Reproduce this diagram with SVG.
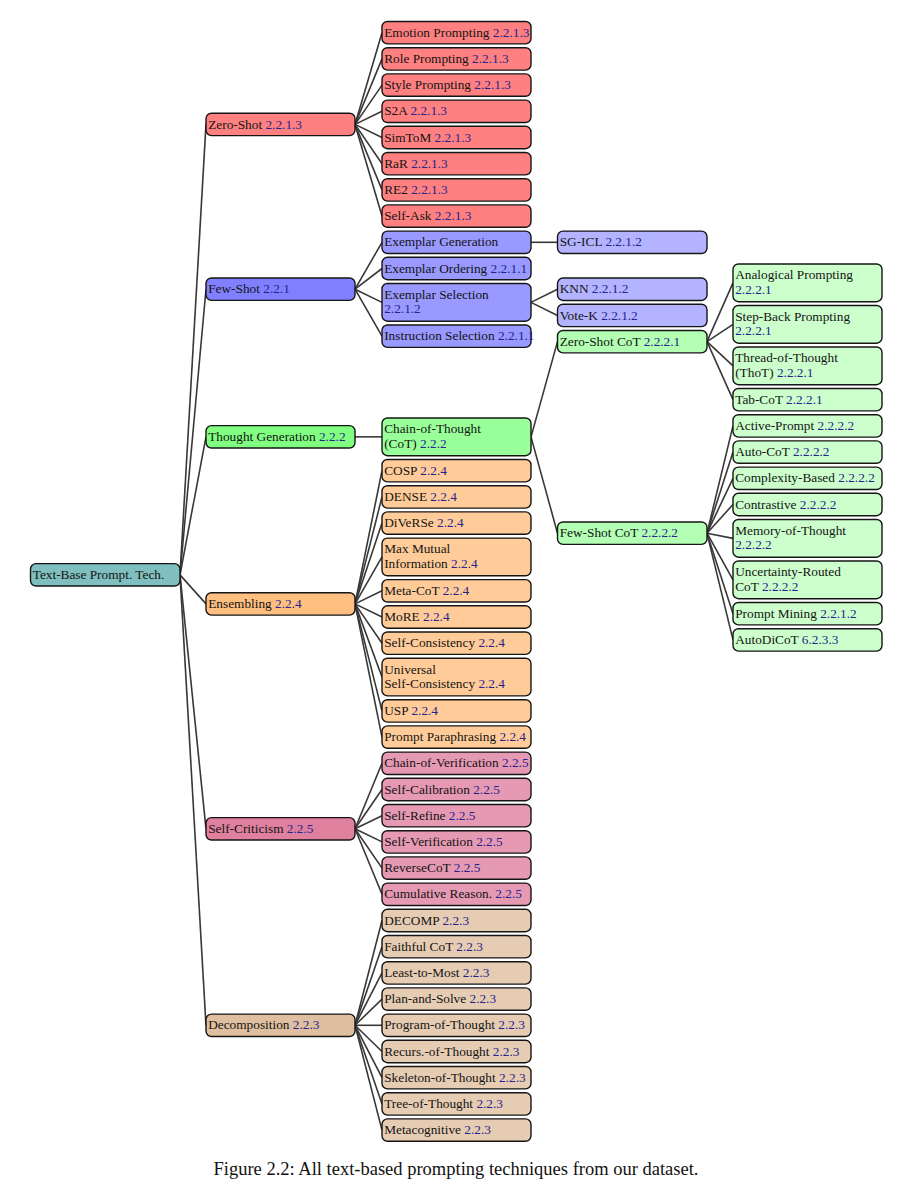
<svg xmlns="http://www.w3.org/2000/svg" width="909" height="1200" viewBox="0 0 909 1200">
<style>
rect{stroke:#151515;stroke-width:1.4}
text{font-family:"Liberation Serif","Times New Roman",serif;font-size:13.3px;fill:#141414}
.s{fill:#24248c}
.cap{font-size:18.5px;fill:#111}
#edges line{stroke:#383838;stroke-width:1.6}
.teal{fill:#80BFBF}
.r1{fill:#FF8080}
.b1{fill:#8080FF}.b2{fill:#9999FF}.b3{fill:#B3B3FF}
.g1{fill:#80FF80}.g2{fill:#99FF99}.g3{fill:#B3FFB3}.g4{fill:#CCFFCC}
.o1{fill:#FFBF80}.o2{fill:#FFCC99}
.p1{fill:#DF809F}.p2{fill:#E699B3}
.w1{fill:#DFBF9F}.w2{fill:#E6CCB3}
</style>
<rect x="0" y="0" width="909" height="1200" style="fill:#fff;stroke:none"/>
<g id="edges">
<line x1="180" y1="574.85" x2="206" y2="124.4"/>
<line x1="180" y1="574.85" x2="206" y2="289.2"/>
<line x1="180" y1="574.85" x2="206" y2="436.85"/>
<line x1="180" y1="574.85" x2="206" y2="603.9"/>
<line x1="180" y1="574.85" x2="206" y2="828.8"/>
<line x1="180" y1="574.85" x2="206" y2="1025.3"/>
<line x1="355" y1="124.4" x2="382" y2="32.7"/>
<line x1="355" y1="124.4" x2="382" y2="58.9"/>
<line x1="355" y1="124.4" x2="382" y2="85.1"/>
<line x1="355" y1="124.4" x2="382" y2="111.3"/>
<line x1="355" y1="124.4" x2="382" y2="137.5"/>
<line x1="355" y1="124.4" x2="382" y2="163.7"/>
<line x1="355" y1="124.4" x2="382" y2="189.9"/>
<line x1="355" y1="124.4" x2="382" y2="216.1"/>
<line x1="355" y1="289.2" x2="382" y2="242.3"/>
<line x1="355" y1="289.2" x2="382" y2="268.5"/>
<line x1="355" y1="289.2" x2="382" y2="302.35"/>
<line x1="355" y1="289.2" x2="382" y2="336.2"/>
<line x1="355" y1="436.85" x2="382" y2="436.85"/>
<line x1="355" y1="603.9" x2="382" y2="470.7"/>
<line x1="355" y1="603.9" x2="382" y2="496.9"/>
<line x1="355" y1="603.9" x2="382" y2="523.1"/>
<line x1="355" y1="603.9" x2="382" y2="556.95"/>
<line x1="355" y1="603.9" x2="382" y2="590.8"/>
<line x1="355" y1="603.9" x2="382" y2="617"/>
<line x1="355" y1="603.9" x2="382" y2="643.2"/>
<line x1="355" y1="603.9" x2="382" y2="677.05"/>
<line x1="355" y1="603.9" x2="382" y2="710.9"/>
<line x1="355" y1="603.9" x2="382" y2="737.1"/>
<line x1="355" y1="828.8" x2="382" y2="763.3"/>
<line x1="355" y1="828.8" x2="382" y2="789.5"/>
<line x1="355" y1="828.8" x2="382" y2="815.7"/>
<line x1="355" y1="828.8" x2="382" y2="841.9"/>
<line x1="355" y1="828.8" x2="382" y2="868.1"/>
<line x1="355" y1="828.8" x2="382" y2="894.3"/>
<line x1="355" y1="1025.3" x2="382" y2="920.5"/>
<line x1="355" y1="1025.3" x2="382" y2="946.7"/>
<line x1="355" y1="1025.3" x2="382" y2="972.9"/>
<line x1="355" y1="1025.3" x2="382" y2="999.1"/>
<line x1="355" y1="1025.3" x2="382" y2="1025.3"/>
<line x1="355" y1="1025.3" x2="382" y2="1051.5"/>
<line x1="355" y1="1025.3" x2="382" y2="1077.7"/>
<line x1="355" y1="1025.3" x2="382" y2="1103.9"/>
<line x1="355" y1="1025.3" x2="382" y2="1130.1"/>
<line x1="531" y1="242.3" x2="557.5" y2="242.3"/>
<line x1="531" y1="302.35" x2="557.5" y2="289.25"/>
<line x1="531" y1="302.35" x2="557.5" y2="315.45"/>
<line x1="531" y1="436.85" x2="557.5" y2="341.65"/>
<line x1="531" y1="436.85" x2="557.5" y2="533.2"/>
<line x1="707" y1="341.65" x2="733" y2="282.85"/>
<line x1="707" y1="341.65" x2="733" y2="324.35"/>
<line x1="707" y1="341.65" x2="733" y2="365.85"/>
<line x1="707" y1="341.65" x2="733" y2="399.7"/>
<line x1="707" y1="533.2" x2="733" y2="425.9"/>
<line x1="707" y1="533.2" x2="733" y2="452.1"/>
<line x1="707" y1="533.2" x2="733" y2="478.3"/>
<line x1="707" y1="533.2" x2="733" y2="504.5"/>
<line x1="707" y1="533.2" x2="733" y2="538.35"/>
<line x1="707" y1="533.2" x2="733" y2="579.85"/>
<line x1="707" y1="533.2" x2="733" y2="613.7"/>
<line x1="707" y1="533.2" x2="733" y2="639.9"/>
</g>

<g id="root"><rect class="teal" x="30.5" y="563.65" width="149.5" height="22.4" rx="5.5"/><text x="32.7" y="578.95">Text-Base Prompt. Tech.</text></g>

<g id="zero-shot"><rect class="r1" x="206" y="113.2" width="149" height="22.4" rx="5.5"/><text x="208.2" y="128.5">Zero-Shot <tspan class="s">2.2.1.3</tspan></text></g>
<g id="few-shot"><rect class="b1" x="206" y="278" width="149" height="22.4" rx="5.5"/><text x="208.2" y="293.3">Few-Shot <tspan class="s">2.2.1</tspan></text></g>
<g id="thought-generation"><rect class="g1" x="206" y="425.65" width="149" height="22.4" rx="5.5"/><text x="208.2" y="440.95">Thought Generation <tspan class="s">2.2.2</tspan></text></g>
<g id="ensembling"><rect class="o1" x="206" y="592.7" width="149" height="22.4" rx="5.5"/><text x="208.2" y="608">Ensembling <tspan class="s">2.2.4</tspan></text></g>
<g id="self-criticism"><rect class="p1" x="206" y="817.6" width="149" height="22.4" rx="5.5"/><text x="208.2" y="832.9">Self-Criticism <tspan class="s">2.2.5</tspan></text></g>
<g id="decomposition"><rect class="w1" x="206" y="1014.1" width="149" height="22.4" rx="5.5"/><text x="208.2" y="1029.4">Decomposition <tspan class="s">2.2.3</tspan></text></g>

<g id="emotion-prompting"><rect class="r1" x="382" y="21.5" width="149" height="22.4" rx="5.5"/><text x="384.2" y="36.8">Emotion Prompting <tspan class="s">2.2.1.3</tspan></text></g>
<g id="role-prompting"><rect class="r1" x="382" y="47.7" width="149" height="22.4" rx="5.5"/><text x="384.2" y="63">Role Prompting <tspan class="s">2.2.1.3</tspan></text></g>
<g id="style-prompting"><rect class="r1" x="382" y="73.9" width="149" height="22.4" rx="5.5"/><text x="384.2" y="89.2">Style Prompting <tspan class="s">2.2.1.3</tspan></text></g>
<g id="s2a"><rect class="r1" x="382" y="100.1" width="149" height="22.4" rx="5.5"/><text x="384.2" y="115.4">S2A <tspan class="s">2.2.1.3</tspan></text></g>
<g id="simtom"><rect class="r1" x="382" y="126.3" width="149" height="22.4" rx="5.5"/><text x="384.2" y="141.6">SimToM <tspan class="s">2.2.1.3</tspan></text></g>
<g id="rar"><rect class="r1" x="382" y="152.5" width="149" height="22.4" rx="5.5"/><text x="384.2" y="167.8">RaR <tspan class="s">2.2.1.3</tspan></text></g>
<g id="re2"><rect class="r1" x="382" y="178.7" width="149" height="22.4" rx="5.5"/><text x="384.2" y="194">RE2 <tspan class="s">2.2.1.3</tspan></text></g>
<g id="self-ask"><rect class="r1" x="382" y="204.9" width="149" height="22.4" rx="5.5"/><text x="384.2" y="220.2">Self-Ask <tspan class="s">2.2.1.3</tspan></text></g>
<g id="exemplar-generation"><rect class="b2" x="382" y="231.1" width="149" height="22.4" rx="5.5"/><text x="384.2" y="246.4">Exemplar Generation</text></g>
<g id="exemplar-ordering"><rect class="b2" x="382" y="257.3" width="149" height="22.4" rx="5.5"/><text x="384.2" y="272.6">Exemplar Ordering <tspan class="s">2.2.1.1</tspan></text></g>
<g id="exemplar-selection"><rect class="b2" x="382" y="283.5" width="149" height="37.7" rx="5.5"/><text x="384.2" y="298.8">Exemplar Selection</text><text x="384.2" y="313.3" class="s">2.2.1.2</text></g>
<g id="instruction-selection"><rect class="b2" x="382" y="325" width="149" height="22.4" rx="5.5"/><text x="384.2" y="340.3">Instruction Selection <tspan class="s">2.2.1.1</tspan></text></g>
<g id="chain-of-thought"><rect class="g2" x="382" y="418" width="149" height="37.7" rx="5.5"/><text x="384.2" y="433.3">Chain-of-Thought</text><text x="384.2" y="447.8">(CoT) <tspan class="s">2.2.2</tspan></text></g>
<g id="cosp"><rect class="o2" x="382" y="459.5" width="149" height="22.4" rx="5.5"/><text x="384.2" y="474.8">COSP <tspan class="s">2.2.4</tspan></text></g>
<g id="dense"><rect class="o2" x="382" y="485.7" width="149" height="22.4" rx="5.5"/><text x="384.2" y="501">DENSE <tspan class="s">2.2.4</tspan></text></g>
<g id="diverse"><rect class="o2" x="382" y="511.9" width="149" height="22.4" rx="5.5"/><text x="384.2" y="527.2">DiVeRSe <tspan class="s">2.2.4</tspan></text></g>
<g id="max-mutual-information"><rect class="o2" x="382" y="538.1" width="149" height="37.7" rx="5.5"/><text x="384.2" y="553.4">Max Mutual</text><text x="384.2" y="567.9">Information <tspan class="s">2.2.4</tspan></text></g>
<g id="meta-cot"><rect class="o2" x="382" y="579.6" width="149" height="22.4" rx="5.5"/><text x="384.2" y="594.9">Meta-CoT <tspan class="s">2.2.4</tspan></text></g>
<g id="more"><rect class="o2" x="382" y="605.8" width="149" height="22.4" rx="5.5"/><text x="384.2" y="621.1">MoRE <tspan class="s">2.2.4</tspan></text></g>
<g id="self-consistency"><rect class="o2" x="382" y="632" width="149" height="22.4" rx="5.5"/><text x="384.2" y="647.3">Self-Consistency <tspan class="s">2.2.4</tspan></text></g>
<g id="universal-self-consistency"><rect class="o2" x="382" y="658.2" width="149" height="37.7" rx="5.5"/><text x="384.2" y="673.5">Universal</text><text x="384.2" y="688">Self-Consistency <tspan class="s">2.2.4</tspan></text></g>
<g id="usp"><rect class="o2" x="382" y="699.7" width="149" height="22.4" rx="5.5"/><text x="384.2" y="715">USP <tspan class="s">2.2.4</tspan></text></g>
<g id="prompt-paraphrasing"><rect class="o2" x="382" y="725.9" width="149" height="22.4" rx="5.5"/><text x="384.2" y="741.2">Prompt Paraphrasing <tspan class="s">2.2.4</tspan></text></g>
<g id="chain-of-verification"><rect class="p2" x="382" y="752.1" width="149" height="22.4" rx="5.5"/><text x="384.2" y="767.4">Chain-of-Verification <tspan class="s">2.2.5</tspan></text></g>
<g id="self-calibration"><rect class="p2" x="382" y="778.3" width="149" height="22.4" rx="5.5"/><text x="384.2" y="793.6">Self-Calibration <tspan class="s">2.2.5</tspan></text></g>
<g id="self-refine"><rect class="p2" x="382" y="804.5" width="149" height="22.4" rx="5.5"/><text x="384.2" y="819.8">Self-Refine <tspan class="s">2.2.5</tspan></text></g>
<g id="self-verification"><rect class="p2" x="382" y="830.7" width="149" height="22.4" rx="5.5"/><text x="384.2" y="846">Self-Verification <tspan class="s">2.2.5</tspan></text></g>
<g id="reversecot"><rect class="p2" x="382" y="856.9" width="149" height="22.4" rx="5.5"/><text x="384.2" y="872.2">ReverseCoT <tspan class="s">2.2.5</tspan></text></g>
<g id="cumulative-reason"><rect class="p2" x="382" y="883.1" width="149" height="22.4" rx="5.5"/><text x="384.2" y="898.4">Cumulative Reason.  <tspan class="s">2.2.5</tspan></text></g>
<g id="decomp"><rect class="w2" x="382" y="909.3" width="149" height="22.4" rx="5.5"/><text x="384.2" y="924.6">DECOMP <tspan class="s">2.2.3</tspan></text></g>
<g id="faithful-cot"><rect class="w2" x="382" y="935.5" width="149" height="22.4" rx="5.5"/><text x="384.2" y="950.8">Faithful CoT <tspan class="s">2.2.3</tspan></text></g>
<g id="least-to-most"><rect class="w2" x="382" y="961.7" width="149" height="22.4" rx="5.5"/><text x="384.2" y="977">Least-to-Most <tspan class="s">2.2.3</tspan></text></g>
<g id="plan-and-solve"><rect class="w2" x="382" y="987.9" width="149" height="22.4" rx="5.5"/><text x="384.2" y="1003.2">Plan-and-Solve <tspan class="s">2.2.3</tspan></text></g>
<g id="program-of-thought"><rect class="w2" x="382" y="1014.1" width="149" height="22.4" rx="5.5"/><text x="384.2" y="1029.4">Program-of-Thought <tspan class="s">2.2.3</tspan></text></g>
<g id="recurs-of-thought"><rect class="w2" x="382" y="1040.3" width="149" height="22.4" rx="5.5"/><text x="384.2" y="1055.6">Recurs.-of-Thought <tspan class="s">2.2.3</tspan></text></g>
<g id="skeleton-of-thought"><rect class="w2" x="382" y="1066.5" width="149" height="22.4" rx="5.5"/><text x="384.2" y="1081.8">Skeleton-of-Thought <tspan class="s">2.2.3</tspan></text></g>
<g id="tree-of-thought"><rect class="w2" x="382" y="1092.7" width="149" height="22.4" rx="5.5"/><text x="384.2" y="1108">Tree-of-Thought <tspan class="s">2.2.3</tspan></text></g>
<g id="metacognitive"><rect class="w2" x="382" y="1118.9" width="149" height="22.4" rx="5.5"/><text x="384.2" y="1134.2">Metacognitive <tspan class="s">2.2.3</tspan></text></g>

<g id="sg-icl"><rect class="b3" x="557.5" y="231.1" width="149.5" height="22.4" rx="5.5"/><text x="559.7" y="246.4">SG-ICL <tspan class="s">2.2.1.2</tspan></text></g>
<g id="knn"><rect class="b3" x="557.5" y="278.05" width="149.5" height="22.4" rx="5.5"/><text x="559.7" y="293.35">KNN <tspan class="s">2.2.1.2</tspan></text></g>
<g id="vote-k"><rect class="b3" x="557.5" y="304.25" width="149.5" height="22.4" rx="5.5"/><text x="559.7" y="319.55">Vote-K <tspan class="s">2.2.1.2</tspan></text></g>
<g id="zero-shot-cot"><rect class="g3" x="557.5" y="330.45" width="149.5" height="22.4" rx="5.5"/><text x="559.7" y="345.75">Zero-Shot CoT <tspan class="s">2.2.2.1</tspan></text></g>
<g id="few-shot-cot"><rect class="g3" x="557.5" y="522" width="149.5" height="22.4" rx="5.5"/><text x="559.7" y="537.3">Few-Shot CoT <tspan class="s">2.2.2.2</tspan></text></g>

<g id="analogical-prompting"><rect class="g4" x="733" y="264" width="149" height="37.7" rx="5.5"/><text x="735.2" y="279.3">Analogical Prompting</text><text x="735.2" y="293.8" class="s">2.2.2.1</text></g>
<g id="step-back-prompting"><rect class="g4" x="733" y="305.5" width="149" height="37.7" rx="5.5"/><text x="735.2" y="320.8">Step-Back Prompting</text><text x="735.2" y="335.3" class="s">2.2.2.1</text></g>
<g id="thread-of-thought"><rect class="g4" x="733" y="347" width="149" height="37.7" rx="5.5"/><text x="735.2" y="362.3">Thread-of-Thought</text><text x="735.2" y="376.8">(ThoT) <tspan class="s">2.2.2.1</tspan></text></g>
<g id="tab-cot"><rect class="g4" x="733" y="388.5" width="149" height="22.4" rx="5.5"/><text x="735.2" y="403.8">Tab-CoT <tspan class="s">2.2.2.1</tspan></text></g>
<g id="active-prompt"><rect class="g4" x="733" y="414.7" width="149" height="22.4" rx="5.5"/><text x="735.2" y="430">Active-Prompt <tspan class="s">2.2.2.2</tspan></text></g>
<g id="auto-cot"><rect class="g4" x="733" y="440.9" width="149" height="22.4" rx="5.5"/><text x="735.2" y="456.2">Auto-CoT <tspan class="s">2.2.2.2</tspan></text></g>
<g id="complexity-based"><rect class="g4" x="733" y="467.1" width="149" height="22.4" rx="5.5"/><text x="735.2" y="482.4">Complexity-Based <tspan class="s">2.2.2.2</tspan></text></g>
<g id="contrastive"><rect class="g4" x="733" y="493.3" width="149" height="22.4" rx="5.5"/><text x="735.2" y="508.6">Contrastive <tspan class="s">2.2.2.2</tspan></text></g>
<g id="memory-of-thought"><rect class="g4" x="733" y="519.5" width="149" height="37.7" rx="5.5"/><text x="735.2" y="534.8">Memory-of-Thought</text><text x="735.2" y="549.3" class="s">2.2.2.2</text></g>
<g id="uncertainty-routed-cot"><rect class="g4" x="733" y="561" width="149" height="37.7" rx="5.5"/><text x="735.2" y="576.3">Uncertainty-Routed</text><text x="735.2" y="590.8">CoT <tspan class="s">2.2.2.2</tspan></text></g>
<g id="prompt-mining"><rect class="g4" x="733" y="602.5" width="149" height="22.4" rx="5.5"/><text x="735.2" y="617.8">Prompt Mining <tspan class="s">2.2.1.2</tspan></text></g>
<g id="autodicot"><rect class="g4" x="733" y="628.7" width="149" height="22.4" rx="5.5"/><text x="735.2" y="644">AutoDiCoT <tspan class="s">6.2.3.3</tspan></text></g>

<text class="cap" x="456" y="1175" text-anchor="middle">Figure 2.2: All text-based prompting techniques from our dataset.</text>
</svg>
